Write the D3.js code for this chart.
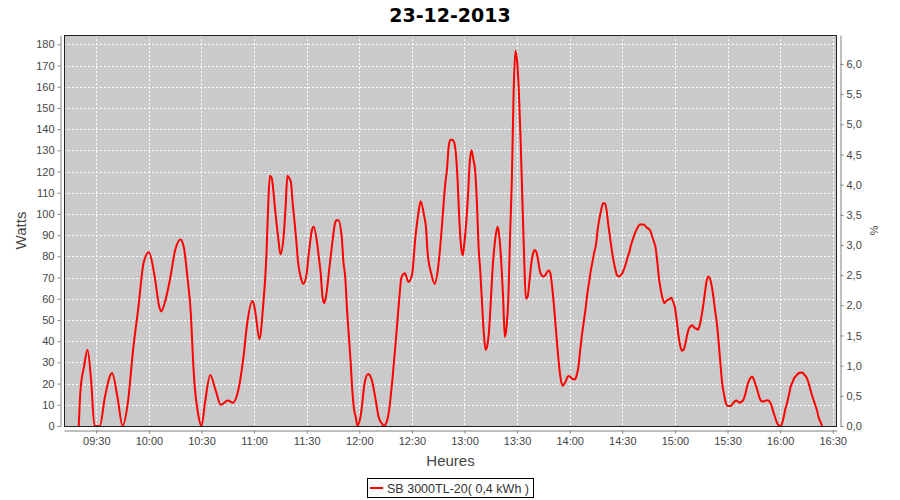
<!DOCTYPE html>
<html><head><meta charset="utf-8">
<script src="https://cdn.jsdelivr.net/npm/d3@7"></script>
<style>body{margin:0;background:#fff}svg{display:block}</style>
</head><body><svg id="c" width="900" height="500"></svg>
<script>
const chartTitle = "23-12-2013";
const xAxisTitle = "Heures";
const yAxisTitle = "Watts";
const y2AxisTitle = "%";
const seriesName = "SB 3000TL-20( 0,4 kWh )";

const times = [
"09:20","09:21","09:23","09:25","09:27","09:29","09:32","09:35","09:39","09:42","09:45","09:48","09:51","09:54","09:57",
"10:00","10:03","10:06","10:07","10:09","10:12","10:15","10:18","10:20","10:22","10:24","10:25","10:26","10:28","10:30",
"10:32","10:35","10:38","10:41","10:45","10:48","10:51","10:54","10:56","10:59",
"11:00","11:01","11:03","11:05","11:07","11:08","11:09","11:10","11:12","11:13","11:14","11:15","11:17","11:18","11:19",
"11:20","11:21","11:22","11:23","11:24","11:25","11:27","11:28","11:30","11:31","11:32","11:33","11:34","11:36","11:37",
"11:38","11:39","11:40","11:41","11:43","11:45","11:46","11:47","11:48","11:50","11:51","11:52","11:53","11:54","11:55",
"11:56","11:57","11:58","11:59","12:01","12:03","12:05","12:07","12:09","12:11","12:13","12:14","12:16","12:17","12:19",
"12:21","12:23","12:24","12:26","12:28","12:30","12:32","12:34","12:35","12:37","12:38","12:39","12:41","12:43","12:45",
"12:46","12:47","12:48","12:49","12:50","12:51","12:52","12:53","12:54","12:55","12:56","12:57","12:58","12:59",
"13:00","13:01","13:02","13:03","13:04","13:05","13:06","13:07","13:08","13:09","13:10","13:11","13:12","13:13","13:14",
"13:15","13:16","13:17","13:18","13:19","13:20","13:21","13:22","13:23","13:24","13:25","13:26","13:27","13:28","13:29",
"13:30","13:31","13:32","13:33","13:34","13:35","13:36","13:37","13:38","13:39","13:40","13:41","13:42","13:43","13:44",
"13:45","13:46","13:47","13:48","13:49","13:50","13:51","13:52","13:53","13:54","13:55","13:56","13:57","13:58","13:59",
"14:00","14:01","14:02","14:03","14:04","14:05","14:06","14:07","14:08","14:09","14:10","14:11","14:12","14:13","14:14",
"14:15","14:16","14:17","14:18","14:19","14:20","14:21","14:22","14:23","14:24","14:25","14:26","14:27","14:28","14:29",
"14:30","14:31","14:32","14:33","14:34","14:35","14:36","14:37","14:38","14:39","14:40","14:41","14:42","14:43","14:44",
"14:45","14:46","14:47","14:48","14:49","14:50","14:51","14:52","14:53","14:54","14:55","14:56","14:57","14:58","14:59",
"15:00","15:01","15:02","15:03","15:04","15:05","15:06","15:07","15:08","15:09","15:10","15:11","15:12","15:13","15:14",
"15:15","15:16","15:17","15:18","15:19","15:20","15:21","15:22","15:23","15:24","15:25","15:26","15:27","15:28","15:29",
"15:30","15:31","15:32","15:33","15:34","15:35","15:36","15:37","15:38","15:39","15:40","15:41","15:42","15:43","15:44",
"15:45","15:46","15:47","15:48","15:49","15:50","15:51","15:52","15:53","15:54","15:55","15:56","15:57","15:58","15:59",
"16:00","16:01","16:02","16:03","16:04","16:05","16:06","16:07","16:08","16:09","16:10","16:11","16:12","16:13","16:14",
"16:15","16:16","16:17","16:18","16:19","16:20","16:21","16:22","16:23","16:24"
];
const watts = [
0,17,28,36,22,0,0,14,25,14,0,11,36,56,77,
82,72,56,54,58,69,83,88,84,70,52,34,20,6,0,
11,24,17,10,12,11,17,33,48,59,
57,52,41,55,80,103,118,117,102,94,87,81,91,104,118,
117,115,105,97,88,78,69,67,72,80,87,92.5,94,86,79,
72,61,58,61,75,89,95,97,97,89,77,70,55,43,31,
17,8,4,0,6,20,24.5,22,14,4.4,1,0,3,7.5,23,
42,62,70,72,68,71,89,102,106,99,94,81.5,72,67,75,
83,93,104,114,121,132,135,135,134,129,117,98,85,80.5,
87,96,109,124.5,130,126,121,107,85,73,58,44,36,38,45,
59,74,84,91,94,88,77,61,42,47,60,90,116,157,177,
172,158,135,107,80,60,61,68,76,81,83,82,78,73,71,
70.5,71,72.5,73.3,72,65.5,57,47,37,28,21.5,19,20,21.5,23.5,
23.5,22.5,22,22,24,28,36,43,49,55,62,67.5,73,77.5,82,
85.5,93,98,102,105,105,102,95,89,83,78,74,71,70.5,71,
72,74,76.5,79.5,82,85.5,88,90.5,92.5,94,95,95,95,94.5,93.5,
93,92,89.5,87,84,77,69,64,60,58,59,59.5,60,60.5,58.5,
56,50,43,38,35.5,36,39,43,46,47,47.5,46.5,46,45.5,47,
51,56,62,68,70.5,69.5,66,60.5,54,48,39,29,20,15,11,
9.5,9.4,9.5,10.6,11.5,12,11.5,11,11.5,12.3,14.5,18,21,22.5,23.3,
22,19.5,17,14,12,11.5,11.7,12,12.2,11.5,10,7,4.5,2,0.5,
0,1,4,8,11,14.5,18.5,20.5,22.5,23.5,24.5,25,25.2,25,24,
23,21,18,15,12.5,10,7.5,4,2,0
];
const xTickLabels = ["09:30","10:00","10:30","11:00","11:30","12:00","12:30","13:00","13:30","14:00","14:30","15:00","15:30","16:00","16:30"];
const yTicks = [0,10,20,30,40,50,60,70,80,90,100,110,120,130,140,150,160,170,180];
const y2Ticks = [0,0.5,1,1.5,2,2.5,3,3.5,4,4.5,5,5.5,6];
const y2TickLabels = ["0,0","0,5","1,0","1,5","2,0","2,5","3,0","3,5","4,0","4,5","5,0","5,5","6,0"];

const parseT = d3.timeParse("%H:%M");
const parseTS = d3.timeParse("%H:%M:%S");
const data = times.map((t, i) => ({ t: parseT(t), v: watts[i] }));

const L = 64, R = 837, T = 35, B = 426;
const svg = d3.select("#c");
const font = "'Liberation Sans', Arial, sans-serif";

const x = d3.scaleTime().domain([parseTS("09:11:35"), parseTS("16:32:27")]).range([L, R]);
const y = d3.scaleLinear().domain([0, 184.4]).range([B, T]);
const y2 = d3.scaleLinear().domain([0, 6.48]).range([B, T]);

// title
svg.append("text").attr("x", 450).attr("y", 22).attr("text-anchor", "middle")
  .attr("font-family", "'DejaVu Sans', sans-serif").attr("font-weight", "bold")
  .attr("font-size", 19).attr("fill", "#000").text(chartTitle);

// plot background
svg.append("rect").attr("x", L).attr("y", T).attr("width", R - L).attr("height", B - T).attr("fill", "#cacaca");

// grid
const xTickVals = xTickLabels.map(parseT);
svg.append("g").selectAll("line").data(xTickVals).join("line")
  .attr("x1", d => Math.round(x(d)) + 0.5).attr("x2", d => Math.round(x(d)) + 0.5)
  .attr("y1", T).attr("y2", B).attr("stroke", "#fff").attr("stroke-dasharray", "2,2");
svg.append("g").selectAll("line").data(yTicks).join("line")
  .attr("x1", L).attr("x2", R).attr("y1", d => Math.round(y(d)) + 0.5).attr("y2", d => Math.round(y(d)) + 0.5)
  .attr("stroke", "#fff").attr("stroke-dasharray", "2,2");

// line
const clipId = "clipP";
svg.append("clipPath").attr("id", clipId).append("rect").attr("x", L).attr("y", T - 2).attr("width", R - L).attr("height", B - T + 2);
svg.append("path").datum(data).attr("clip-path", `url(#${clipId})`)
  .attr("fill", "none").attr("stroke", "#ff0000").attr("stroke-width", 2).attr("stroke-linejoin", "round")
  .attr("d", d3.line().x(d => x(d.t)).y(d => y(d.v)).curve(d3.curveMonotoneX));

// plot outline
svg.append("rect").attr("x", L + 0.5).attr("y", T + 0.5).attr("width", R - L - 1).attr("height", B - T)
  .attr("fill", "none").attr("stroke", "#222");

function styleAxis(g) {
  g.select(".domain").attr("stroke", "#808080");
  g.selectAll(".tick line").attr("stroke", "#808080");
  g.selectAll(".tick text").attr("fill", "#444").attr("font-size", 11).attr("font-family", font);
}

// left axis
svg.append("g").attr("transform", `translate(${L - 3.5},0)`)
  .call(d3.axisLeft(y).tickValues(yTicks).tickSize(3).tickSizeOuter(0).tickPadding(3))
  .call(styleAxis);
// bottom axis
svg.append("g").attr("transform", `translate(0,${B + 4.5})`)
  .call(d3.axisBottom(x).tickValues(xTickVals).tickFormat((d, i) => xTickLabels[i]).tickSize(3).tickSizeOuter(0).tickPadding(4))
  .call(styleAxis);
// right axis
svg.append("g").attr("transform", `translate(${R + 3.5},0)`)
  .call(d3.axisRight(y2).tickValues(y2Ticks).tickFormat((d, i) => y2TickLabels[i]).tickSize(3).tickSizeOuter(0).tickPadding(3))
  .call(styleAxis);

// axis titles
svg.append("text").attr("transform", "translate(26,230.5) rotate(-90)").attr("text-anchor", "middle")
  .attr("font-family", font).attr("font-size", 15).attr("fill", "#444").text(yAxisTitle);
svg.append("text").attr("x", (L + R) / 2).attr("y", 466).attr("text-anchor", "middle")
  .attr("font-family", font).attr("font-size", 15).attr("fill", "#444").text(xAxisTitle);
svg.append("text").attr("transform", "translate(870,230.5) rotate(90)").attr("text-anchor", "middle")
  .attr("font-family", font).attr("font-size", 11).attr("fill", "#444").text(y2AxisTitle);

// legend
const lg = svg.append("g");
lg.append("rect").attr("x", 367.5).attr("y", 478.5).attr("width", 166).attr("height", 19)
  .attr("fill", "#fff").attr("stroke", "#000");
lg.append("line").attr("x1", 370).attr("x2", 383).attr("y1", 488).attr("y2", 488)
  .attr("stroke", "#ff0000").attr("stroke-width", 2);
lg.append("text").attr("x", 387).attr("y", 492.5).attr("font-family", font).attr("font-size", 12)
  .attr("textLength", 142).attr("lengthAdjust", "spacingAndGlyphs")
  .attr("fill", "#333").text(seriesName);
</script>
</body></html>
